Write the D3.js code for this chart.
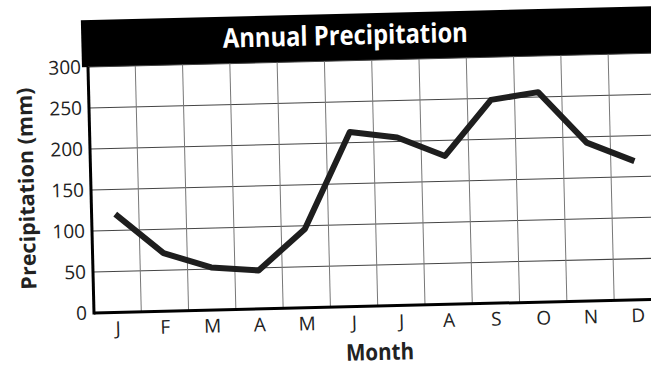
<!DOCTYPE html>
<html lang="en">
<head>
    <meta charset="UTF-8">
    <title>Annual Precipitation</title>
    <style>
        body {
            margin: 0;
            background: #fff;
        }
        .tick text {
            font-family: "Open Sans", sans-serif;
            fill: #222;
        }
        .grid line {
            stroke: #444;
            stroke-width: 1;
        }
    </style>
</head>
<body>
    <div id="chart"></div>

    <script src="https://d3js.org/d3.v7.min.js"></script>
    <script>
        const months = ['J', 'F', 'M', 'A', 'M', 'J', 'J', 'A', 'S', 'O', 'N', 'D'];
        const precipitation = [120, 71, 52, 47, 96, 213, 205, 181, 248, 256, 193, 169];
        const yTicks = [0, 50, 100, 150, 200, 250, 300];

        const width = 651;
        const height = 367;

        const plotLeft = 94, plotBottom = 313, plotTop = 67;
        const bandW = 47.3;

        const svg = d3.select('#chart')
            .append('svg')
            .attr('width', width)
            .attr('height', height);

        // the scan is tilted a little, so the whole drawing is too
        const g = svg.append('g')
            .attr('transform', `rotate(-1.4, ${plotLeft}, ${plotBottom})`);

        const x = d3.scaleBand()
            .domain(d3.range(months.length))
            .range([plotLeft, plotLeft + bandW * months.length]);

        const y = d3.scaleLinear()
            .domain([0, 300])
            .range([plotBottom, plotTop]);

        // title bar
        g.append('rect')
            .attr('x', plotLeft - 6)
            .attr('y', 20)
            .attr('width', 700)
            .attr('height', plotTop - 20)
            .attr('fill', '#000');

        g.append('text')
            .attr('x', 352)
            .attr('y', 51)
            .attr('text-anchor', 'middle')
            .attr('textLength', 245)
            .attr('lengthAdjust', 'spacingAndGlyphs')
            .style('font-family', '"Open Sans", sans-serif')
            .style('font-weight', 'bold')
            .style('font-size', '27px')
            .style('fill', '#fff')
            .text('Annual Precipitation');

        // grid
        const grid = g.append('g').attr('class', 'grid');

        grid.selectAll('line.h')
            .data(yTicks.filter(d => d > 0))
            .enter().append('line')
            .attr('class', 'h')
            .attr('x1', plotLeft)
            .attr('x2', x.range()[1])
            .attr('y1', d => y(d))
            .attr('y2', d => y(d));

        grid.selectAll('line.v')
            .data(d3.range(1, months.length + 1))
            .enter().append('line')
            .attr('class', 'v')
            .attr('x1', d => plotLeft + d * x.step())
            .attr('x2', d => plotLeft + d * x.step())
            .attr('y1', plotTop)
            .attr('y2', plotBottom)
            .style('stroke', '#777');

        // axes
        const yAxis = g.append('g')
            .attr('transform', `translate(${plotLeft},0)`)
            .call(d3.axisLeft(y).tickValues(yTicks).tickSize(0).tickPadding(7));
        yAxis.select('.domain').remove();
        yAxis.selectAll('text').style('font-size', '19px');

        const xAxis = g.append('g')
            .attr('transform', `translate(0,${plotBottom})`)
            .call(d3.axisBottom(x).tickFormat(i => months[i]).tickSize(0).tickPadding(9));
        xAxis.select('.domain').remove();
        xAxis.selectAll('text').style('font-size', '19px');

        g.append('line')
            .attr('x1', plotLeft).attr('x2', plotLeft)
            .attr('y1', plotTop).attr('y2', plotBottom + 1.5)
            .attr('stroke', '#000')
            .attr('stroke-width', 3);

        g.append('line')
            .attr('x1', plotLeft).attr('x2', x.range()[1])
            .attr('y1', plotBottom).attr('y2', plotBottom)
            .attr('stroke', '#000')
            .attr('stroke-width', 3);

        // precipitation line
        const line = d3.line()
            .x((d, i) => x(i) + x.bandwidth() / 2)
            .y(d => y(d));

        g.append('path')
            .datum(precipitation)
            .attr('d', line)
            .attr('fill', 'none')
            .attr('stroke', '#1e1e1e')
            .attr('stroke-width', 6)
            .attr('stroke-linejoin', 'round')
            .attr('stroke-linecap', 'butt');

        // axis titles
        g.append('text')
            .attr('transform', 'translate(37,187) rotate(-90)')
            .attr('text-anchor', 'middle')
            .attr('textLength', 202)
            .attr('lengthAdjust', 'spacingAndGlyphs')
            .style('font-family', '"Open Sans", sans-serif')
            .style('font-weight', 'bold')
            .style('font-size', '21px')
            .style('fill', '#222')
            .text('Precipitation (mm)');

        g.append('text')
            .attr('x', 379)
            .attr('y', 367)
            .attr('text-anchor', 'middle')
            .attr('textLength', 68)
            .attr('lengthAdjust', 'spacingAndGlyphs')
            .style('font-family', '"Open Sans", sans-serif')
            .style('font-weight', 'bold')
            .style('font-size', '23px')
            .style('fill', '#222')
            .text('Month');
    </script>
</body>
</html>
